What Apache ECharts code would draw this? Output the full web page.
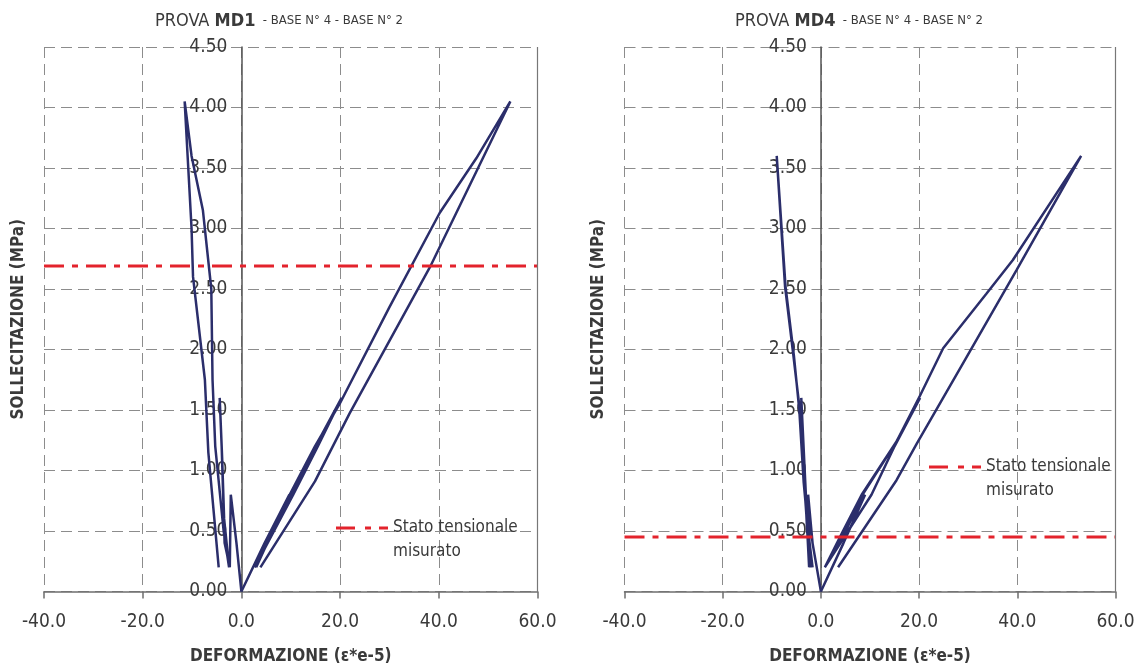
<!DOCTYPE html>
<html>
<head>
<meta charset="utf-8">
<title>Prove MD1 - MD4</title>
<script src="https://cdn.jsdelivr.net/npm/echarts/dist/echarts.min.js"></script>
<style>
  html, body { margin: 0; padding: 0; background: #fff; }
  #chart { width: 1137px; height: 666px; }
</style>
</head>
<body>
<div id="chart"></div>
<script>
// axis ranges (same for both tests)
const xRange = [-40, 60]
const xStep = 20
const yRange = [0, 4.5]
const yStep = 0.5

// PROVA MD1 - deformation (e*e-5) / stress (MPa)
const md1Neg = [
  [0, 0], [-1.0, 0.4], [-2.15, 0.8], [-2.35, 0.2],
  [-3.4, 0.4], [-3.7, 0.8], [-4.0, 1.2], [-4.4, 1.6],
  [-3.9, 1.1], [-3.5, 0.6], [-2.5, 0.2],
  [-3.6, 0.5], [-5.3, 1.2], [-5.85, 1.75], [-6.1, 2.5], [-7.8, 3.15], [-10.1, 3.6], [-11.5, 4.05],
  [-10.1, 3.0], [-9.8, 2.6], [-7.4, 1.75], [-6.7, 1.15], [-4.6, 0.2]
]
const md1Pos = [
  [0, 0], [4.7, 0.4], [9.7, 0.8], [3.0, 0.2],
  [5.0, 0.4], [10.0, 0.8], [15.0, 1.2], [20.3, 1.6],
  [15.5, 1.2], [10.5, 0.8], [2.7, 0.2],
  [4.7, 0.4], [9.8, 0.8], [14.9, 1.2], [19.9, 1.55], [30.0, 2.35], [40.2, 3.13], [47.6, 3.58], [54.5, 4.05],
  [38.2, 2.68], [21.9, 1.47], [14.9, 0.91], [3.85, 0.2]
]
const md1Stress = 2.69

// PROVA MD4
const md4Neg = [
  [0, 0], [-1.7, 0.4], [-2.6, 0.8], [-2.2, 0.2],
  [-2.8, 0.5], [-3.4, 1.0], [-4.0, 1.6],
  [-3.6, 1.6], [-3.3, 1.0], [-2.7, 0.5], [-2.4, 0.2],
  [-2.9, 0.6], [-3.6, 1.0], [-4.3, 1.5], [-5.6, 1.95], [-7.3, 2.52], [-9.0, 3.6],
  [-7.2, 2.52], [-5.5, 1.95], [-4.4, 1.5], [-3.5, 0.9], [-2.6, 0.5], [-1.7, 0.2]
]
const md4Pos = [
  [0, 0], [4.6, 0.4], [9.0, 0.8], [0.8, 0.2],
  [4.5, 0.5], [8.3, 0.8], [15.4, 1.24], [20.2, 1.6],
  [15.0, 1.2], [10.3, 0.8], [0.8, 0.2],
  [4.5, 0.45], [8.5, 0.8], [15.4, 1.24], [20.2, 1.62], [24.9, 2.01], [33.7, 2.46], [39.1, 2.74], [53.0, 3.6],
  [39.9, 2.66], [29.7, 1.94], [19.5, 1.22], [15.4, 0.92], [3.5, 0.2]
]
const md4Stress = 0.45

const legendName = 'Stato tensionale misurato'
const font = "'Liberation Sans Narrow', 'DejaVu Sans Condensed', Roboto, sans-serif"
const textColor = '#3a3a3a'
const curveColor = '#2b2e6b'
const redColor = '#e3232c'

// grid pixel boxes: [left, width]
const grids = [[44, 493.5], [624.5, 491]]

function xAxisCfg(idx) {
  return {
    type: 'value',
    gridIndex: idx,
    min: xRange[0],
    max: xRange[1],
    interval: xStep,
    axisLine: { onZero: false, lineStyle: { color: '#6e6e6e', width: 1.5 } },
    axisTick: { show: true, length: 7, lineStyle: { color: '#6e6e6e', width: 1.5 } },
    axisLabel: {
      margin: 21,
      color: textColor,
      fontFamily: font,
      fontSize: 19,
      formatter: v => v.toFixed(1)
    },
    splitLine: { show: true, lineStyle: { color: '#8c8c8c', width: 1, type: [11, 6] } },
    name: 'DEFORMAZIONE (\u03b5*e-5)',
    nameLocation: 'middle',
    nameGap: 57,
    nameTextStyle: { color: textColor, fontFamily: font, fontSize: 17, fontWeight: 'bold' }
  }
}

function yAxisCfg(idx) {
  // y axis sits on x = 0
  const shift = grids[idx][1] * (0 - xRange[0]) / (xRange[1] - xRange[0])
  return {
    type: 'value',
    gridIndex: idx,
    position: 'left',
    offset: -shift,
    min: yRange[0],
    max: yRange[1],
    interval: yStep,
    axisLine: { onZero: false, lineStyle: { color: '#555', width: 1.5 } },
    axisTick: { show: false },
    axisLabel: {
      margin: 14,
      color: textColor,
      fontFamily: font,
      fontSize: 19,
      formatter: v => v.toFixed(2)
    },
    splitLine: { show: true, lineStyle: { color: '#8c8c8c', width: 1, type: [11, 6] } },
    name: 'SOLLECITAZIONE (MPa)',
    nameLocation: 'middle',
    nameGap: 214,
    nameMoveOverlap: false,
    nameTextStyle: { color: textColor, fontFamily: font, fontSize: 17, fontWeight: 'bold' }
  }
}

function curve(name, data, idx) {
  return {
    name: name,
    type: 'line',
    xAxisIndex: idx,
    yAxisIndex: idx,
    data: data,
    symbol: 'none',
    lineStyle: { color: curveColor, width: 2.5 },
    z: 3
  }
}

function stressLine(value, idx) {
  return {
    name: legendName,
    type: 'line',
    xAxisIndex: idx,
    yAxisIndex: idx,
    data: [[xRange[0], value], [xRange[1], value]],
    symbol: 'none',
    itemStyle: { color: redColor },
    lineStyle: { color: redColor, width: 3, type: [20, 8, 6, 8] },
    z: 4,
    // right border of the plot area is solid
    markLine: {
      silent: true,
      symbol: 'none',
      label: { show: false },
      lineStyle: { color: '#777', width: 1.2, type: 'solid' },
      data: [{ xAxis: xRange[1] }]
    }
  }
}

function titleCfg(test, left) {
  return {
    left: left,
    top: 7,
    text: '{a|PROVA }{b|' + test + '}{c|  - BASE N\u00b0 4 - BASE N\u00b0 2}',
    textStyle: {
      rich: {
        a: { fontFamily: font, fontSize: 18, color: textColor, fontWeight: 'normal' },
        b: { fontFamily: font, fontSize: 18, color: textColor, fontWeight: 'bold' },
        c: { fontFamily: font, fontSize: 13, color: textColor, fontWeight: 'normal' }
      }
    }
  }
}

function legendCfg(left, top) {
  return {
    left: left,
    top: top,
    data: [legendName],
    selectedMode: false,
    // dash - dot - dash icon
    icon: 'path://M0,0h19v3h-19z M29,0h6v3h-6z M43,0h9v3h-9z',
    itemWidth: 52,
    itemHeight: 3,
    itemGap: 0,
    formatter: () => '\nStato tensionale\nmisurato',
    textStyle: {
      color: textColor,
      fontFamily: font,
      fontSize: 17,
      lineHeight: 24
    }
  }
}

const chart = echarts.init(document.getElementById('chart'), null, { renderer: 'canvas' })
chart.setOption({
  animation: false,
  backgroundColor: '#fff',
  title: [titleCfg('MD1', 150), titleCfg('MD4', 730)],
  legend: [legendCfg(331, 487), legendCfg(924, 426)],
  grid: [
    { left: grids[0][0], width: grids[0][1], top: 47, bottom: 74.5, outerBoundsMode: 'none' },
    { left: grids[1][0], width: grids[1][1], top: 47, bottom: 74.5, outerBoundsMode: 'none' }
  ],
  xAxis: [xAxisCfg(0), xAxisCfg(1)],
  yAxis: [yAxisCfg(0), yAxisCfg(1)],
  series: [
    curve('MD1 base 4', md1Neg, 0),
    curve('MD1 base 2', md1Pos, 0),
    stressLine(md1Stress, 0),
    curve('MD4 base 4', md4Neg, 1),
    curve('MD4 base 2', md4Pos, 1),
    stressLine(md4Stress, 1)
  ]
})
</script>
</body>
</html>
